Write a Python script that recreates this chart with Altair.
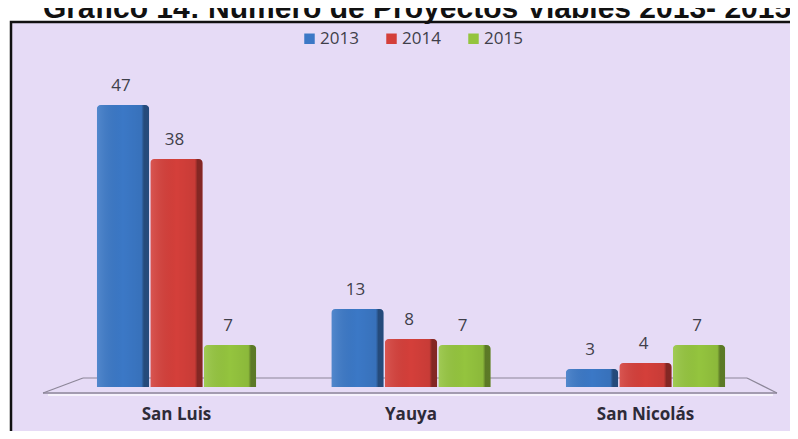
import altair as alt
import pandas as pd

categories = ["San Luis", "Yauya", "San Nicolás"]
years = ["2013", "2014", "2015"]
values_2013 = [47, 13, 3]
values_2014 = [38, 8, 4]
values_2015 = [7, 7, 7]
colors = ["#3B78C6", "#D43F3A", "#94C43E"]
title_text = "Gráfico 14: Número de Proyectos Viables 2013- 2015"

rows = []
for yr, vals in zip(years, [values_2013, values_2014, values_2015]):
    for c, v in zip(categories, vals):
        rows.append({"municipio": c, "anio": yr, "valor": v})
df = pd.DataFrame(rows)
cat_df = pd.DataFrame({"municipio": categories})

W, H = 782, 423
BG = "#E6DBF6"

xscale = alt.Scale(domain=categories, range=[51.25, 754.75], paddingInner=0.32, paddingOuter=0.16)
yscale = alt.Scale(domain=[0, 50], range=[379, 79])
x_enc = alt.X("municipio:N", scale=xscale, axis=None)
xo_enc = alt.XOffset("anio:N", scale=alt.Scale(domain=years, paddingInner=0.02))
y_enc = alt.Y("valor:Q", scale=yscale, axis=None)

one = pd.DataFrame({"a": [0]})
base1 = alt.Chart(one)

panel = base1.mark_rect(fill=BG, stroke="#111111", strokeWidth=2.5).encode(
    x=alt.value(3), x2=alt.value(820), y=alt.value(14), y2=alt.value(460)
)

title = base1.mark_text(
    text=title_text, align="left", baseline="alphabetic", fontSize=30,
    font="Liberation Sans", fontWeight="bold", color="#111111"
).encode(x=alt.value(35), y=alt.value(10))

floor_col = "#8C8698"
floor_top = base1.mark_rule(color=floor_col, strokeWidth=1.2).encode(
    x=alt.value(75), x2=alt.value(739), y=alt.value(370), y2=alt.value(370))
floor_bot = base1.mark_rule(color=floor_col, strokeWidth=1.5).encode(
    x=alt.value(35), x2=alt.value(769), y=alt.value(385), y2=alt.value(385))
floor_hl = base1.mark_rule(color="#F6F2FC", strokeWidth=2).encode(
    x=alt.value(40), x2=alt.value(765), y=alt.value(387), y2=alt.value(387))
floor_l = base1.mark_rule(color=floor_col, strokeWidth=1.2).encode(
    x=alt.value(35), x2=alt.value(75), y=alt.value(385), y2=alt.value(370))
floor_r = base1.mark_rule(color=floor_col, strokeWidth=1.2).encode(
    x=alt.value(739), x2=alt.value(769), y=alt.value(370), y2=alt.value(385))

bars = alt.Chart(df).mark_bar(cornerRadiusTopLeft=4, cornerRadiusTopRight=4).encode(
    x=x_enc, xOffset=xo_enc, y=y_enc,
    color=alt.Color(
        "anio:N", scale=alt.Scale(domain=years, range=colors),
        legend=alt.Legend(
            title=None, orient="none", legendX=293, legendY=22, direction="horizontal",
            columns=3, symbolType="square", symbolSize=110, symbolStrokeWidth=0,
            labelFont="Open Sans", labelFontSize=17, labelColor="#3F3F4A",
            labelOffset=2, columnPadding=24, padding=0
        )
    )
)

shade = alt.Chart(df).mark_bar(
    cornerRadiusTopLeft=4, cornerRadiusTopRight=4,
    fill=alt.Gradient(
        gradient="linear", x1=0, x2=1, y1=0, y2=0,
        stops=[
            alt.GradientStop(color="rgba(255,255,255,0.12)", offset=0),
            alt.GradientStop(color="rgba(0,0,0,0)", offset=0.5),
            alt.GradientStop(color="rgba(0,0,0,0.06)", offset=0.85),
            alt.GradientStop(color="rgba(0,0,0,0.38)", offset=0.9),
            alt.GradientStop(color="rgba(0,0,0,0.38)", offset=1),
        ],
    ),
).encode(x=x_enc, xOffset=xo_enc, y=y_enc)

labels = alt.Chart(df).mark_text(
    baseline="middle", align="center", dy=-19, dx=-2, fontSize=17,
    font="Open Sans", color="#3F3F4A"
).encode(x=x_enc, xOffset=xo_enc, y=y_enc, text="valor:Q")

cat_labels = alt.Chart(cat_df).mark_text(
    baseline="middle", align="center", fontSize=17, font="Open Sans",
    fontWeight="bold", color="#2E2B38"
).encode(x=x_enc, y=alt.value(407), text="municipio:N")

chart = alt.layer(
    panel, title, floor_top, floor_bot, floor_hl, floor_l, floor_r,
    bars, shade, labels, cat_labels
).properties(
    width=W, height=H, autosize=alt.AutoSizeParams(type="none"), padding=0,
    background="white"
).configure_view(stroke=None)

chart.save("out.html", embed_options={"renderer": "svg", "actions": False})
